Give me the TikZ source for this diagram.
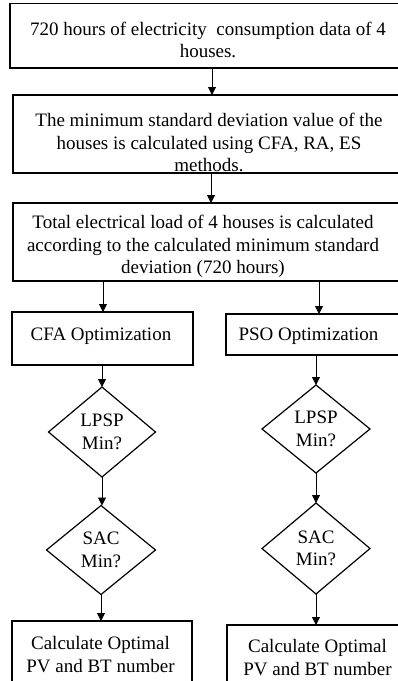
\documentclass[tikz,border=0pt]{standalone}
\usepackage{fontspec}
\setmainfont{Liberation Serif}
\usetikzlibrary{shapes.geometric,arrows.meta}
\newcommand{\fsz}{\fontsize{19}{22.5}\selectfont}
\tikzset{
 boxshape/.style={draw=black, line width=1.2pt, rectangle, inner sep=0pt, outer sep=0pt},
 dia/.style={draw=black, line width=1.2pt, diamond, inner sep=0pt, outer sep=0pt, align=center, font=\fsz},
 txt/.style={align=center, inner sep=0pt, font=\fsz},
 arr/.style={line width=0.8pt, -{Triangle[length=8pt,width=8pt]}},
}
\begin{document}
\begin{tikzpicture}[x=1pt,y=-1pt]
\useasboundingbox (0,0) rectangle (398,681);
\fill[white] (0,0) rectangle (398,681);
\clip (0,0) rectangle (398,681);
% boxes
\node[boxshape, minimum width=396pt, minimum height=64.5pt] (b1) at (208,35.75) {};
\node[txt] (t1) at (208,40) {720 hours of electricity\ \ consumption data of 4\\houses.};
\node[boxshape, minimum width=394pt, minimum height=78pt] (b2) at (210,134) {};
\node[txt] (t2) at (209,142.5) {The minimum standard deviation value of the\\houses is calculated using CFA, RA, ES\\methods.};
\node[boxshape, minimum width=394pt, minimum height=78pt] (b3) at (210,242) {};
\node[txt] (t3) at (203,246.5) {Total electrical load of 4 houses is calculated\\according to the calculated minimum standard\\deviation (720 hours)};
\node[boxshape, minimum width=181pt, minimum height=53pt] (cfa) at (102.5,338.5) {};
\node[txt] (tcfa) at (101,336.5) {CFA Optimization};
\node[boxshape, minimum width=180pt, minimum height=41pt] (pso) at (316,334.5) {};
\node[txt] (tpso) at (308.5,336.5) {PSO Optimization};
% diamonds
\node[dia, minimum width=107pt, minimum height=90pt] (lpl) at (102,432) {LPSP\\Min?};
\node[dia, minimum width=108pt, minimum height=88pt] (lpr) at (316,429) {LPSP\\Min?};
\node[dia, minimum width=109pt, minimum height=89pt] (sacl) at (101,550) {SAC\\Min?};
\node[dia, minimum width=108pt, minimum height=91pt] (sacr) at (316,548.5) {SAC\\Min?};
% bottom boxes
\node[boxshape, minimum width=180pt, minimum height=69pt] (bl) at (102,655.5) {};
\node[txt] (tbl) at (100.5,654.5) {Calculate Optimal\\PV and BT number};
\node[boxshape, minimum width=180pt, minimum height=65pt] (br) at (317,657.5) {};
\node[txt] (tbr) at (317.5,657.5) {Calculate Optimal\\PV and BT number};
% arrows
\coordinate (x1) at (212,0);
\coordinate (x2) at (211,0);
\coordinate (xl) at (103,0);
\coordinate (xr) at (319,0);
\draw[arr] (b1.south -| x1) -- (b2.north -| x1);
\draw[arr] (b2.south -| x2) -- (b3.north -| x2);
\draw[arr] (b3.south -| xl) -- (cfa.north -| xl);
\draw[arr] (b3.south -| xr) -- (pso.north -| xr);
\draw[arr] (cfa.south -| lpl.north) -- (lpl.north);
\draw[arr] (pso.south -| lpr.north) -- (lpr.north);
\draw[arr] (lpl.south) -- (lpl.south |- sacl.north);
\draw[arr] (lpr.south) -- (lpr.south |- sacr.north);
\draw[arr] (sacl.south) -- (sacl.south |- bl.north);
\draw[arr] (sacr.south) -- (sacr.south |- br.north);
\end{tikzpicture}
\end{document}
